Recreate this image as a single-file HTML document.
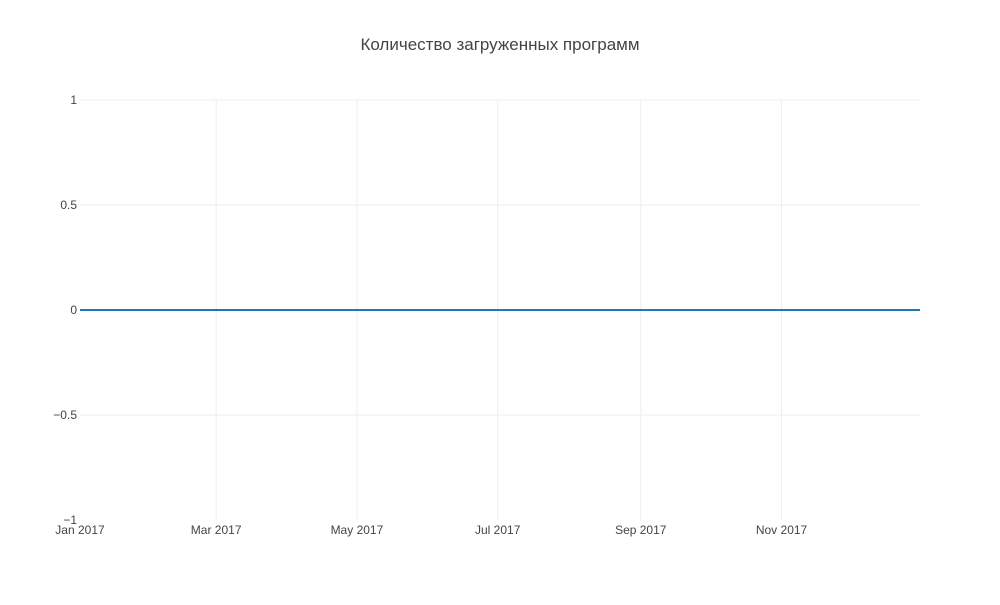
<!DOCTYPE html>
<html><head><meta charset="utf-8">
<style>
body{margin:0;background:#fff;}
svg text{font-family:"Liberation Sans","DejaVu Sans",sans-serif;fill:#444;}
</style></head>
<body>
<svg id="chart" width="1000" height="600" xmlns="http://www.w3.org/2000/svg">
<text x="500" y="50" text-anchor="middle" font-size="17">Количество загруженных программ</text>
<g id="grid"></g>
<g id="yticks"></g>
<g id="xticks"></g>
<g id="series"></g>
</svg>
<script>
const dates = ["2017-01-01","2017-02-01","2017-03-01","2017-04-01","2017-05-01","2017-06-01","2017-07-01","2017-08-01","2017-09-01","2017-10-01","2017-11-01","2017-12-01","2017-12-31"];
const values = [0,0,0,0,0,0,0,0,0,0,0,0,0];
const xTickDates = ["2017-01-01","2017-03-01","2017-05-01","2017-07-01","2017-09-01","2017-11-01"];
const xTickLabels = ["Jan 2017","Mar 2017","May 2017","Jul 2017","Sep 2017","Nov 2017"];
const yTicks = [-1,-0.5,0,0.5,1];
const yTickLabels = ["−1","−0.5","0","0.5","1"];

const L=80,R=920,T=100,B=520;
const t0=Date.parse("2017-01-01"),t1=Date.parse("2017-12-31");
const xs=d=>L+(Date.parse(d)-t0)/(t1-t0)*(R-L);
const ys=v=>B-(v+1)/2*(B-T);
const NS="http://www.w3.org/2000/svg";
function mk(tag,attrs,parent){const e=document.createElementNS(NS,tag);for(const k in attrs)e.setAttribute(k,attrs[k]);parent.appendChild(e);return e;}
const grid=document.getElementById('grid'),yt=document.getElementById('yticks'),xt=document.getElementById('xticks'),ser=document.getElementById('series');
yTicks.forEach((v,i)=>{
  if(v!==0&&v!==-1){const g=mk('line',{x1:L,x2:R,y1:ys(v),y2:ys(v),stroke:'#eee','stroke-width':1},grid);
  
  }
  const t=mk('text',{x:L-3,y:ys(v)+4,'text-anchor':'end','font-size':12},yt);
  
  
  t.textContent=yTickLabels[i];
});
xTickDates.forEach((d,i)=>{
  if(i>0){const g=mk('line',{x1:xs(d),x2:xs(d),y1:T,y2:B,stroke:'#eee','stroke-width':1},grid);
  
  }
  const t=mk('text',{x:xs(d),y:B+14,'text-anchor':'middle','font-size':12},xt);
  
  
  t.textContent=xTickLabels[i];
});
const pts=dates.map((d,i)=>xs(d)+','+ys(values[i])).join(' ');
const p=mk('polyline',{points:pts,fill:'none',stroke:'#1f77b4','stroke-width':2},ser);


</script>
</body></html>
